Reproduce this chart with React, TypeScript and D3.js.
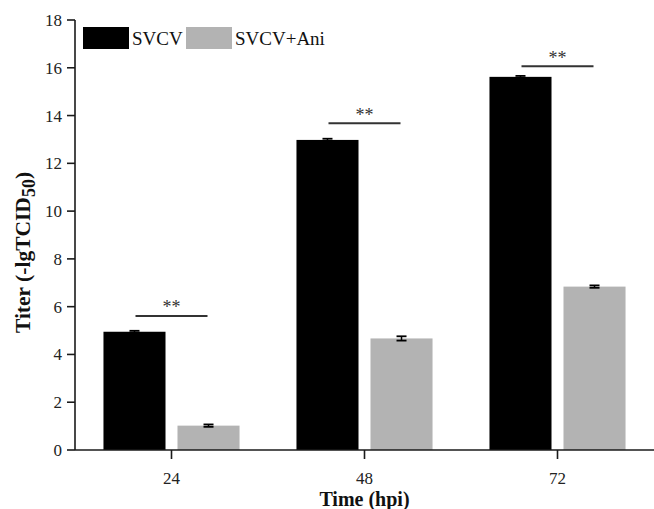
import React from "react";
import * as d3 from "d3";

const categories = ["24", "48", "72"];
const seriesNames = ["SVCV", "SVCV+Ani"];
const svcvValues = [4.95, 12.98, 15.62];
const aniValues = [1.02, 4.67, 6.84];
const svcvErrors = [0.04, 0.05, 0.04];
const aniErrors = [0.05, 0.09, 0.05];
const sigLevels = [5.61, 13.68, 16.06];
const sigLabels = ["**", "**", "**"];
const yTicks = [0, 2, 4, 6, 8, 10, 12, 14, 16, 18];

const W = 654;
const H = 509;
const FONT = '"Liberation Serif", "Times New Roman", Times, "DejaVu Serif", serif';
const colors = ["#000000", "#b3b3b3"];

export default function App() {
  const left = 75, right = 654, top = 20, bottom = 450;
  const x0 = d3.scaleBand<string>().domain(categories).range([left, right]).paddingInner(0.295).paddingOuter(0.1475);
  const x1 = d3.scaleBand<string>().domain(seriesNames).range([0, x0.bandwidth()]).paddingInner(0.162);
  const y = d3.scaleLinear().domain([0, 18]).range([bottom, top]);
  const valuesBySeries = [svcvValues, aniValues];
  const errorsBySeries = [svcvErrors, aniErrors];
  const ts = { fontFamily: FONT } as React.CSSProperties;

  return (
    <svg width={W} height={H} style={{ position: "absolute", left: 0, top: 0, background: "#fff", fontFamily: FONT }}>
      <rect x={0} y={0} width={W} height={H} fill="#ffffff" />
      {categories.map((c, i) => (
        <g key={c} transform={`translate(${x0(c)},0)`}>
          {seriesNames.map((s, j) => {
            const v = valuesBySeries[j][i];
            const e = errorsBySeries[j][i];
            const bx = x1(s)!;
            const bw = x1.bandwidth();
            const cx = bx + bw / 2;
            return (
              <g key={s}>
                <rect x={bx} y={y(v)} width={bw} height={y(0) - y(v)} fill={colors[j]} />
                <line x1={cx} x2={cx} y1={y(v + e)} y2={y(v - e)} stroke="#000" strokeWidth={1.5} />
                <line x1={cx - 5} x2={cx + 5} y1={y(v + e)} y2={y(v + e)} stroke="#000" strokeWidth={1.8} />
                <line x1={cx - 5} x2={cx + 5} y1={y(v - e)} y2={y(v - e)} stroke="#000" strokeWidth={1.8} />
              </g>
            );
          })}
        </g>
      ))}
      {categories.map((c, i) => {
        const cx = x0(c)! + x0.bandwidth() / 2;
        const ly = y(sigLevels[i]);
        return (
          <g key={"sig" + c}>
            <line x1={cx - 36} x2={cx + 36} y1={ly} y2={ly} stroke="#333" strokeWidth={2} />
            <text x={cx} y={ly - 2.5} textAnchor="middle" fontSize={18} fill="#333" style={ts}>{sigLabels[i]}</text>
          </g>
        );
      })}
      <line x1={left} x2={left} y1={top} y2={bottom} stroke="#1a1a1a" strokeWidth={1.6} />
      {yTicks.map((t) => (
        <g key={"yt" + t}>
          <line x1={left - 8} x2={left} y1={y(t)} y2={y(t)} stroke="#1a1a1a" strokeWidth={1.6} />
          <text x={left - 13} y={y(t)} dy="0.35em" textAnchor="end" fontSize={17} fill="#222" style={ts}>{t}</text>
        </g>
      ))}
      <line x1={left} x2={right} y1={bottom} y2={bottom} stroke="#1a1a1a" strokeWidth={1.6} />
      {categories.map((c) => {
        const cx = x0(c)! + x0.bandwidth() / 2;
        return (
          <g key={"xt" + c}>
            <line x1={cx} x2={cx} y1={bottom} y2={bottom + 9} stroke="#1a1a1a" strokeWidth={1.6} />
            <text x={cx} y={483.5} textAnchor="middle" fontSize={17} fill="#222" style={ts}>{c}</text>
          </g>
        );
      })}
      <text x={364.5} y={506} textAnchor="middle" fontSize={20} fontWeight="bold" fill="#111" style={ts}>Time (hpi)</text>
      <text transform="translate(30,252.5) rotate(-90)" textAnchor="middle" fontSize={21.5} fontWeight="bold" fill="#111" style={ts}>
        Titer (-lgTCID<tspan fontSize={18} dy={5}>50</tspan><tspan dy={-5}>)</tspan>
      </text>
      {seriesNames.map((s, j) => {
        const lx = j === 0 ? 83 : 186;
        return (
          <g key={"lg" + s}>
            <rect x={lx} y={27} width={46} height={22} fill={colors[j]} />
            <text x={lx + 49} y={44.5} fontSize={19} fill="#111" style={ts}>{s}</text>
          </g>
        );
      })}
    </svg>
  );
}
